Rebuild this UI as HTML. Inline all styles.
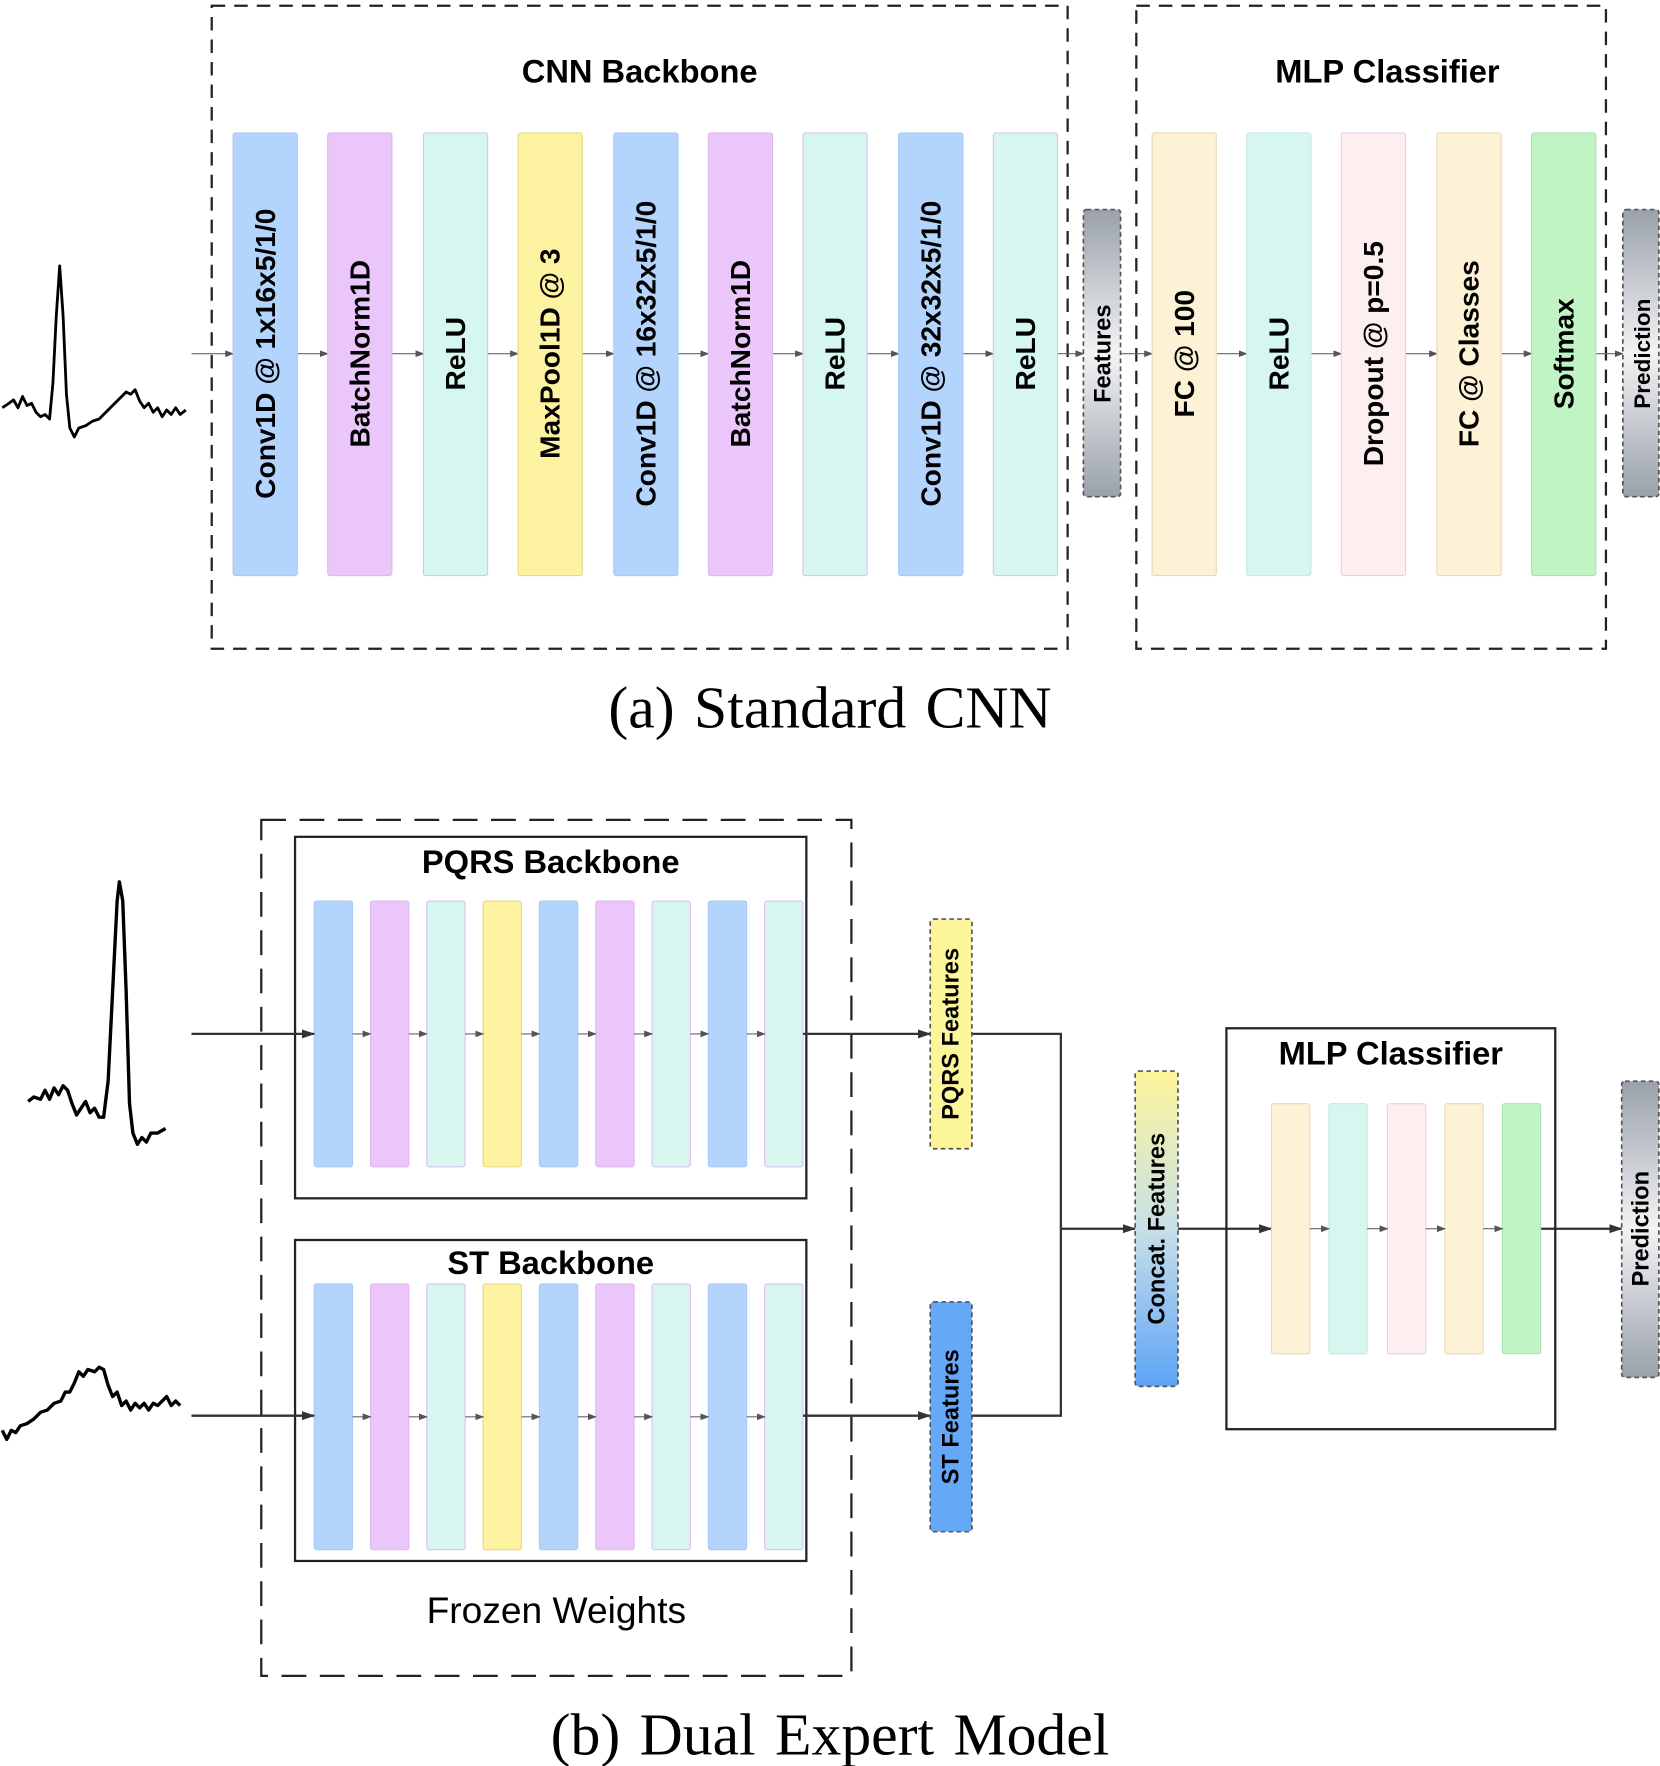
<!DOCTYPE html>
<html><head><meta charset="utf-8"><style>
html,body{margin:0;padding:0;background:#fff;}
svg{display:block;}
text{font-family:"Liberation Sans",Arial,sans-serif;}
.b{font-weight:bold;font-size:25px;fill:#000;}
.t{font-weight:bold;font-size:29px;}
.cap{font-family:"Liberation Serif",serif;font-size:53px;word-spacing:4px;}
</style></head><body>
<svg width="1660" height="1766" viewBox="0 0 1474 1568" xmlns="http://www.w3.org/2000/svg">
<defs>
<marker id="a" markerWidth="8" markerHeight="8" refX="7" refY="4" orient="auto" markerUnits="userSpaceOnUse"><path d="M0,1 L8,4 L0,7z" fill="#555"/></marker>
<marker id="A" markerWidth="12" markerHeight="10" refX="11" refY="5" orient="auto" markerUnits="userSpaceOnUse"><path d="M0,1 L12,5 L0,9z" fill="#333"/></marker>
<linearGradient id="g" x1="0" y1="0" x2="0" y2="1"><stop offset="0" stop-color="#9aa1aa"/><stop offset="0.5" stop-color="#f2f3f5"/><stop offset="1" stop-color="#9aa1aa"/></linearGradient>
<linearGradient id="cg" x1="0" y1="0" x2="0" y2="1"><stop offset="0" stop-color="#fdf59a"/><stop offset="0.5" stop-color="#c8e0e8"/><stop offset="1" stop-color="#5da4f7"/></linearGradient>
</defs>
<!-- (a) -->
<rect x="188" y="5" width="760" height="571" fill="none" stroke="#222" stroke-width="2" stroke-dasharray="12,8"/>
<rect x="1009" y="5" width="417" height="571" fill="none" stroke="#222" stroke-width="2" stroke-dasharray="12,8"/>
<text x="568" y="73" class="t" text-anchor="middle">CNN Backbone</text>
<text x="1232" y="73" class="t" text-anchor="middle">MLP Classifier</text>
<g stroke="#666" stroke-width="1" marker-end="url(#a)">
<line x1="170" y1="314" x2="207" y2="314"/><line x1="264" y1="314" x2="291" y2="314"/><line x1="348" y1="314" x2="376" y2="314"/><line x1="433" y1="314" x2="460" y2="314"/><line x1="517" y1="314" x2="545" y2="314"/><line x1="602" y1="314" x2="629" y2="314"/><line x1="686" y1="314" x2="713" y2="314"/><line x1="770" y1="314" x2="798" y2="314"/><line x1="855" y1="314" x2="882" y2="314"/><line x1="939" y1="314" x2="962" y2="314"/><line x1="995" y1="314" x2="1023" y2="314"/><line x1="1080" y1="314" x2="1107" y2="314"/><line x1="1164" y1="314" x2="1191" y2="314"/><line x1="1248" y1="314" x2="1276" y2="314"/><line x1="1333" y1="314" x2="1360" y2="314"/><line x1="1417" y1="314" x2="1441" y2="314"/>
</g>
<g stroke-width="1">
<rect x="207" y="118" width="57" height="393" rx="2" fill="#b3d4fc" stroke="#a8cbf5"/>
<rect x="291" y="118" width="57" height="393" rx="2" fill="#ebc6fa" stroke="#e0b8f0"/>
<rect x="376" y="118" width="57" height="393" rx="2" fill="#d6f7f0" stroke="#e0c0f0"/>
<rect x="460" y="118" width="57" height="393" rx="2" fill="#fdf2a0" stroke="#e8d88a"/>
<rect x="545" y="118" width="57" height="393" rx="2" fill="#b3d4fc" stroke="#a8cbf5"/>
<rect x="629" y="118" width="57" height="393" rx="2" fill="#ebc6fa" stroke="#e0b8f0"/>
<rect x="713" y="118" width="57" height="393" rx="2" fill="#d6f7f0" stroke="#e0c0f0"/>
<rect x="798" y="118" width="57" height="393" rx="2" fill="#b3d4fc" stroke="#a8cbf5"/>
<rect x="882" y="118" width="57" height="393" rx="2" fill="#d6f7f0" stroke="#e0c0f0"/>
<rect x="1023" y="118" width="57" height="393" rx="2" fill="#fdf1d6" stroke="#e8d8b8"/>
<rect x="1107" y="118" width="57" height="393" rx="2" fill="#d6f7f0" stroke="#c8e8e0"/>
<rect x="1191" y="118" width="57" height="393" rx="2" fill="#fdeef0" stroke="#f0c8f0"/>
<rect x="1276" y="118" width="57" height="393" rx="2" fill="#fdf1d6" stroke="#e8d8b8"/>
<rect x="1360" y="118" width="57" height="393" rx="2" fill="#c0f4c4" stroke="#a8e4b0"/>
</g>
<rect x="962" y="186" width="33" height="255" rx="3" fill="url(#g)" stroke="#555" stroke-width="1.5" stroke-dasharray="4,3"/>
<rect x="1441" y="186" width="32" height="255" rx="3" fill="url(#g)" stroke="#555" stroke-width="1.5" stroke-dasharray="4,3"/>
<g class="b">
<text transform="translate(244,314) rotate(-90)" text-anchor="middle">Conv1D @ 1x16x5/1/0</text>
<text transform="translate(328,314) rotate(-90)" text-anchor="middle">BatchNorm1D</text>
<text transform="translate(413,314) rotate(-90)" text-anchor="middle">ReLU</text>
<text transform="translate(497,314) rotate(-90)" text-anchor="middle">MaxPool1D @ 3</text>
<text transform="translate(582,314) rotate(-90)" text-anchor="middle">Conv1D @ 16x32x5/1/0</text>
<text transform="translate(666,314) rotate(-90)" text-anchor="middle">BatchNorm1D</text>
<text transform="translate(750,314) rotate(-90)" text-anchor="middle">ReLU</text>
<text transform="translate(835,314) rotate(-90)" text-anchor="middle">Conv1D @ 32x32x5/1/0</text>
<text transform="translate(919,314) rotate(-90)" text-anchor="middle">ReLU</text>
<text transform="translate(1060,314) rotate(-90)" text-anchor="middle">FC @ 100</text>
<text transform="translate(1144,314) rotate(-90)" text-anchor="middle">ReLU</text>
<text transform="translate(1228,314) rotate(-90)" text-anchor="middle">Dropout @ p=0.5</text>
<text transform="translate(1313,314) rotate(-90)" text-anchor="middle">FC @ Classes</text>
<text transform="translate(1397,314) rotate(-90)" text-anchor="middle">Softmax</text>
</g>
<text transform="translate(986,314) rotate(-90)" text-anchor="middle" font-weight="bold" font-size="21">Features</text>
<text transform="translate(1465,314) rotate(-90)" text-anchor="middle" font-weight="bold" font-size="20">Prediction</text>
<path d="M2,362 L8,358 L12,355 L16,362 L20,352 L24,360 L28,358 L32,366 L36,370 L40,368 L44,372 L47,340 L50,280 L53,236 L56,280 L59,350 L62,380 L66,388 L70,380 L76,378 L82,374 L88,372 L94,366 L100,360 L104,356 L108,352 L112,348 L116,350 L120,346 L124,356 L128,362 L132,358 L136,366 L140,362 L144,370 L148,364 L152,368 L156,362 L160,368 L165,364" fill="none" stroke="#000" stroke-width="2.5" stroke-linejoin="round"/>
<text x="737" y="646" class="cap" text-anchor="middle">(a) Standard CNN</text>
<!-- (b) -->
<rect x="232" y="728" width="524" height="760" fill="none" stroke="#222" stroke-width="2" stroke-dasharray="22,12"/>
<rect x="262" y="743" width="454" height="321" fill="none" stroke="#222" stroke-width="2"/>
<rect x="262" y="1101" width="454" height="285" fill="none" stroke="#222" stroke-width="2"/>
<text x="489" y="775" class="t" text-anchor="middle">PQRS Backbone</text>
<text x="489" y="1131" class="t" text-anchor="middle">ST Backbone</text>
<text x="494" y="1441" text-anchor="middle" font-size="33">Frozen Weights</text>
<g id="bb" stroke-width="1">
<rect x="279" y="800" width="34" height="236" rx="2" fill="#b3d4fc" stroke="#a8cbf5"/>
<rect x="329" y="800" width="34" height="236" rx="2" fill="#ebc6fa" stroke="#e0b8f0"/>
<rect x="379" y="800" width="34" height="236" rx="2" fill="#d6f7f0" stroke="#e0c0f0"/>
<rect x="429" y="800" width="34" height="236" rx="2" fill="#fdf2a0" stroke="#e8d88a"/>
<rect x="479" y="800" width="34" height="236" rx="2" fill="#b3d4fc" stroke="#a8cbf5"/>
<rect x="529" y="800" width="34" height="236" rx="2" fill="#ebc6fa" stroke="#e0b8f0"/>
<rect x="579" y="800" width="34" height="236" rx="2" fill="#d6f7f0" stroke="#e0c0f0"/>
<rect x="629" y="800" width="34" height="236" rx="2" fill="#b3d4fc" stroke="#a8cbf5"/>
<rect x="679" y="800" width="34" height="236" rx="2" fill="#d6f7f0" stroke="#e0c0f0"/>
<g stroke="#666" marker-end="url(#a)"><line x1="313" y1="918" x2="329" y2="918"/><line x1="363" y1="918" x2="379" y2="918"/><line x1="413" y1="918" x2="429" y2="918"/><line x1="463" y1="918" x2="479" y2="918"/><line x1="513" y1="918" x2="529" y2="918"/><line x1="563" y1="918" x2="579" y2="918"/><line x1="613" y1="918" x2="629" y2="918"/><line x1="663" y1="918" x2="679" y2="918"/></g>
</g>
<use href="#bb" transform="translate(0,340)"/>
<g stroke="#333" stroke-width="2" fill="none">
<line x1="170" y1="918" x2="279" y2="918" marker-end="url(#A)"/>
<line x1="713" y1="918" x2="826" y2="918" marker-end="url(#A)"/>
<line x1="170" y1="1257" x2="279" y2="1257" marker-end="url(#A)"/>
<line x1="713" y1="1257" x2="826" y2="1257" marker-end="url(#A)"/>
<polyline points="863,918 942,918 942,1257 863,1257"/>
<line x1="942" y1="1091" x2="1008" y2="1091" marker-end="url(#A)"/>
<line x1="1046" y1="1091" x2="1129" y2="1091" marker-end="url(#A)"/>
<line x1="1368" y1="1091" x2="1440" y2="1091" marker-end="url(#A)"/>
</g>
<rect x="826" y="816" width="37" height="204" rx="3" fill="#fdf59a" stroke="#555" stroke-width="1.5" stroke-dasharray="4,3"/>
<rect x="826" y="1156" width="37" height="204" rx="3" fill="#66a8f8" stroke="#555" stroke-width="1.5" stroke-dasharray="4,3"/>
<rect x="1008" y="951" width="38" height="280" rx="3" fill="url(#cg)" stroke="#555" stroke-width="1.5" stroke-dasharray="4,3"/>
<rect x="1440" y="960" width="33" height="263" rx="3" fill="url(#g)" stroke="#555" stroke-width="1.5" stroke-dasharray="4,3"/>
<text transform="translate(851,918) rotate(-90)" text-anchor="middle" font-weight="bold" font-size="21">PQRS Features</text>
<text transform="translate(851,1258) rotate(-90)" text-anchor="middle" font-weight="bold" font-size="21">ST Features</text>
<text transform="translate(1034,1091) rotate(-90)" text-anchor="middle" font-weight="bold" font-size="21">Concat. Features</text>
<text transform="translate(1464,1091) rotate(-90)" text-anchor="middle" font-weight="bold" font-size="21">Prediction</text>
<rect x="1089" y="913" width="292" height="356" fill="none" stroke="#222" stroke-width="2"/>
<text x="1235" y="945" class="t" text-anchor="middle">MLP Classifier</text>
<g stroke-width="1">
<rect x="1129" y="980" width="34" height="222" rx="2" fill="#fdf1d6" stroke="#e8d8b8"/>
<rect x="1180" y="980" width="34" height="222" rx="2" fill="#d6f7f0" stroke="#c8e8e0"/>
<rect x="1232" y="980" width="34" height="222" rx="2" fill="#fdeef0" stroke="#f0c8f0"/>
<rect x="1283" y="980" width="34" height="222" rx="2" fill="#fdf1d6" stroke="#e8d8b8"/>
<rect x="1334" y="980" width="34" height="222" rx="2" fill="#c0f4c4" stroke="#a8e4b0"/>
</g>
<g stroke="#666" marker-end="url(#a)"><line x1="1163" y1="1091" x2="1180" y2="1091"/><line x1="1214" y1="1091" x2="1232" y2="1091"/><line x1="1266" y1="1091" x2="1283" y2="1091"/><line x1="1317" y1="1091" x2="1334" y2="1091"/></g>
<path d="M25,978 L30,974 L36,976 L40,968 L44,976 L48,966 L52,972 L56,964 L60,968 L64,980 L68,990 L72,984 L76,978 L80,988 L84,984 L88,992 L92,992 L96,960 L100,880 L104,800 L106,783 L109,800 L112,880 L115,980 L118,1006 L122,1016 L126,1010 L130,1014 L134,1006 L140,1006 L147,1002" fill="none" stroke="#000" stroke-width="3" stroke-linejoin="round"/>
<path d="M2,1270 L6,1278 L10,1270 L14,1272 L18,1266 L24,1264 L30,1260 L36,1254 L42,1252 L48,1246 L54,1244 L58,1236 L62,1236 L66,1228 L70,1218 L74,1222 L78,1216 L84,1218 L88,1214 L92,1216 L96,1230 L100,1240 L104,1236 L108,1248 L112,1244 L116,1252 L120,1246 L124,1250 L128,1246 L132,1252 L136,1246 L140,1248 L144,1244 L148,1240 L152,1248 L156,1244 L160,1248" fill="none" stroke="#000" stroke-width="3" stroke-linejoin="round"/>
<text x="737" y="1558" class="cap" text-anchor="middle">(b) Dual Expert Model</text>
</svg>
</body></html>
